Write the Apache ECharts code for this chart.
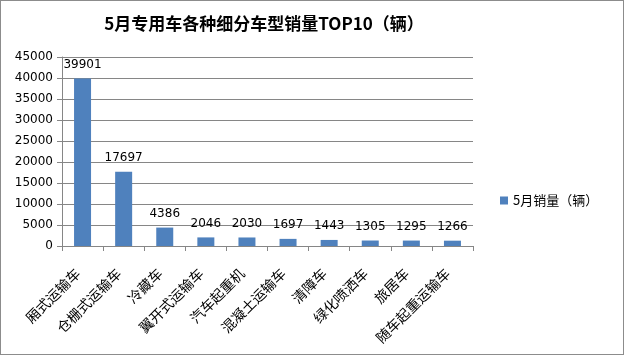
<!DOCTYPE html>
<html><head><meta charset="utf-8">
<script src="https://cdn.jsdelivr.net/npm/echarts@6/dist/echarts.min.js"></script>
<style>html,body{margin:0;padding:0;background:#fff}#c{width:624px;height:355px;box-sizing:border-box;border:1px solid #8c8c8c}</style>
</head><body><div id="c"></div>
<script>
const categories = ['厢式运输车','仓栅式运输车','冷藏车','翼开式运输车','汽车起重机','混凝土运输车','清障车','绿化喷洒车','旅居车','随车起重运输车'];
const sales = [39901,17697,4386,2046,2030,1697,1443,1305,1295,1266];
const seriesName = '5月销量（辆）';
const titleText = '5月专用车各种细分车型销量TOP10（辆）';

const chart = echarts.init(document.getElementById('c'));
chart.setOption({
  animation:false,
  title:{text:titleText,left:258,top:9,textAlign:'center',textStyle:{fontFamily:'Noto Sans CJK SC',fontSize:17,fontWeight:'bold',color:'#000'}},
  legend:{data:[seriesName],left:494,top:188,itemWidth:8,itemHeight:8,itemGap:5,icon:'rect',textStyle:{fontFamily:'Noto Sans CJK SC',fontSize:13,color:'#000'}},
  grid:{left:61,right:150,top:56,bottom:108},
  xAxis:{type:'category',data:categories,
    axisLine:{lineStyle:{color:'#868686'}},
    axisTick:{show:true,alignWithLabel:false,length:5,lineStyle:{color:'#868686'}},
    axisLabel:{interval:0,rotate:45,align:'right',verticalAlign:'middle',padding:[0,7,0,0],fontFamily:'Noto Sans CJK SC',fontSize:14,color:'#000',margin:20}},
  yAxis:{type:'value',min:0,max:45000,interval:5000,
    axisLine:{show:true,lineStyle:{color:'#868686'}},
    axisTick:{show:true,length:5,lineStyle:{color:'#868686'}},
    splitLine:{lineStyle:{color:'#868686'}},
    axisLabel:{formatter:function(v){return String(v);},fontFamily:'DejaVu Sans',fontSize:12,color:'#000',margin:9}},
  series:[{name:seriesName,type:'bar',data:sales,barWidth:17,
    itemStyle:{color:'#4F81BD'},
    label:{show:true,position:'top',fontFamily:'DejaVu Sans',fontSize:12,color:'#000',distance:8}}]
});
</script></body></html>
